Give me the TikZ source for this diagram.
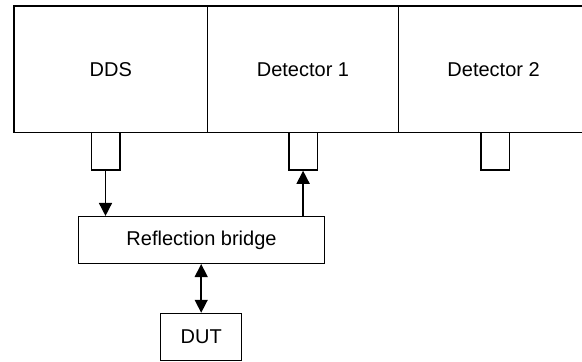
\documentclass[tikz,border=0pt]{standalone}
\usepackage{fontspec}
\setmainfont{Liberation Sans}
\usetikzlibrary{arrows.meta}
\begin{document}
\begin{tikzpicture}[x=1pt,y=-1pt,
  box/.style={draw=black,line width=1.5pt,rectangle,inner sep=0pt,
    font=\fontsize{20pt}{24pt}\selectfont},
  port/.style={draw=black,line width=1.5pt,rectangle,inner sep=0pt,
    minimum width=28.5pt,minimum height=37.3pt},
  conn/.style={line width=1.5pt,-{Triangle[width=13pt,length=13pt]}},
  bconn/.style={line width=1.5pt,{Triangle[width=13pt,length=13pt]}-{Triangle[width=13pt,length=13pt]}}]
\useasboundingbox (0,0) rectangle (582,362);
\node[box,minimum width=193.7pt,minimum height=126.7pt] (dds) at (110.85,69.35) {DDS};
\node[box,minimum width=190.6pt,minimum height=126.7pt] (det1) at (303,69.35) {Detector 1};
\node[box,minimum width=190.6pt,minimum height=126.7pt] (det2) at (493.6,69.35) {Detector 2};
\node[port] (p1) at (105.5,151.35) {};
\node[port] (p2) at (303.1,151.35) {};
\node[port] (p3) at (495.3,151.35) {};
\node[box,minimum width=246.4pt,minimum height=46.6pt] (bridge) at (201.5,240) {Reflection bridge};
\node[box,minimum width=81pt,minimum height=47pt] (dut) at (201.2,337) {DUT};
\draw[conn] (p1.south) -- (p1.south |- bridge.north);
\draw[conn] (p2.south |- bridge.north) -- (p2.south);
\draw[bconn] (dut.north |- bridge.south) -- (dut.north);
\end{tikzpicture}
\end{document}
